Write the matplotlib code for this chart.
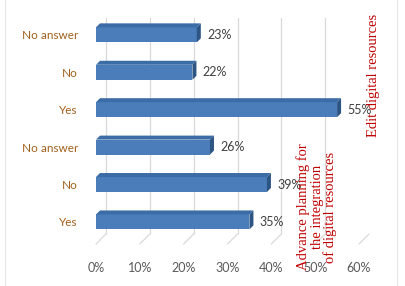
import matplotlib
matplotlib.use("Agg")
import matplotlib.pyplot as plt
from matplotlib.patches import Polygon
from matplotlib.transforms import ScaledTranslation
from matplotlib.lines import Line2D

# data (bottom to top)
categories = ["Yes", "No", "No answer", "Yes", "No", "No answer"]
values = [35, 39, 26, 55, 22, 23]
xticks = [0, 10, 20, 30, 40, 50, 60]
xtick_labels = ["0%", "10%", "20%", "30%", "40%", "50%", "60%"]
group_labels = ["Advance planning for\nthe integration\nof digital resources",
                "Edit digital resources"]

front = "#4A7DBA"
top_c = "#3C6CA6"
side_c = "#2D5584"
label_c = "#A2601C"
grid_c = "#D9D9D9"
red = "#C00000"

fig = plt.figure(figsize=(4.05, 2.86), dpi=100)
ax = fig.add_axes([96 / 405, 1 - 244 / 286, 263 / 405, 226 / 286])
ax.set_xlim(0, 60)
ax.set_ylim(-0.59, 5.45)
for s in ax.spines.values():
    s.set_visible(False)

ypos = list(range(len(values)))
h = 0.4
ax.barh(ypos, values, height=h, color=front, zorder=3)

# depth of bars in data units (4 px)
inv = ax.transData.inverted()
p0 = inv.transform(ax.transData.transform((0, 0)))
p1 = inv.transform(ax.transData.transform((0, 0)) + [4, 4])
dx, dy = p1 - p0
for y, v in zip(ypos, values):
    t = y + h / 2
    b = y - h / 2
    ax.add_patch(Polygon([(0, t), (v, t), (v + dx, t + dy), (dx, t + dy)],
                         closed=True, facecolor=top_c, edgecolor="none", zorder=3))
    ax.add_patch(Polygon([(v, b), (v + dx, b + dy), (v + dx, t + dy), (v, t)],
                         closed=True, facecolor=side_c, edgecolor="none", zorder=3))
    ax.annotate(f"{v}%", xy=(v + dx, y), xytext=(4.5, 0), textcoords="offset points",
                ha="left", va="center", fontsize=9, family="Lato", color="#404040", zorder=4)

# back wall gridlines and floor lines
back = ax.get_xaxis_transform() + ScaledTranslation(10 / 100, 10 / 100, fig.dpi_scale_trans)
ax.vlines(xticks, 0, 1, transform=back, color=grid_c, lw=0.9, zorder=1)
for x in xticks:
    ax.annotate("", xy=(x, 0), xycoords=("data", "axes fraction"), xytext=(10, 10),
                textcoords="offset pixels",
                arrowprops=dict(arrowstyle="-", color=grid_c, lw=0.9, shrinkA=0, shrinkB=0))

ax.set_xticks(xticks)
ax.set_xticklabels(xtick_labels, family="Lato", fontsize=9, color="#595959")
ax.set_yticks(ypos)
ax.set_yticklabels(categories, family="Lato", fontsize=8.5, color=label_c)
ax.tick_params(axis="x", length=0, pad=13)
ax.tick_params(axis="y", length=0, pad=13)

fig.text(317 / 405, 1 - 207 / 286, group_labels[0], rotation=90, ha="center", va="center",
         multialignment="center", family="Liberation Serif", fontsize=10.5, color=red,
         linespacing=1.0)
fig.text(374 / 405, 1 - 75 / 286, group_labels[1], rotation=90, ha="center", va="center",
         family="Liberation Serif", fontsize=10.5, color=red)

# frame sides
fig.add_artist(Line2D([5 / 405, 5 / 405], [0, 1], color="#E6E6E6", lw=0.8))
fig.add_artist(Line2D([397 / 405, 397 / 405], [0, 1], color="#E6E6E6", lw=0.8))

fig.savefig("out.png", dpi=100)
